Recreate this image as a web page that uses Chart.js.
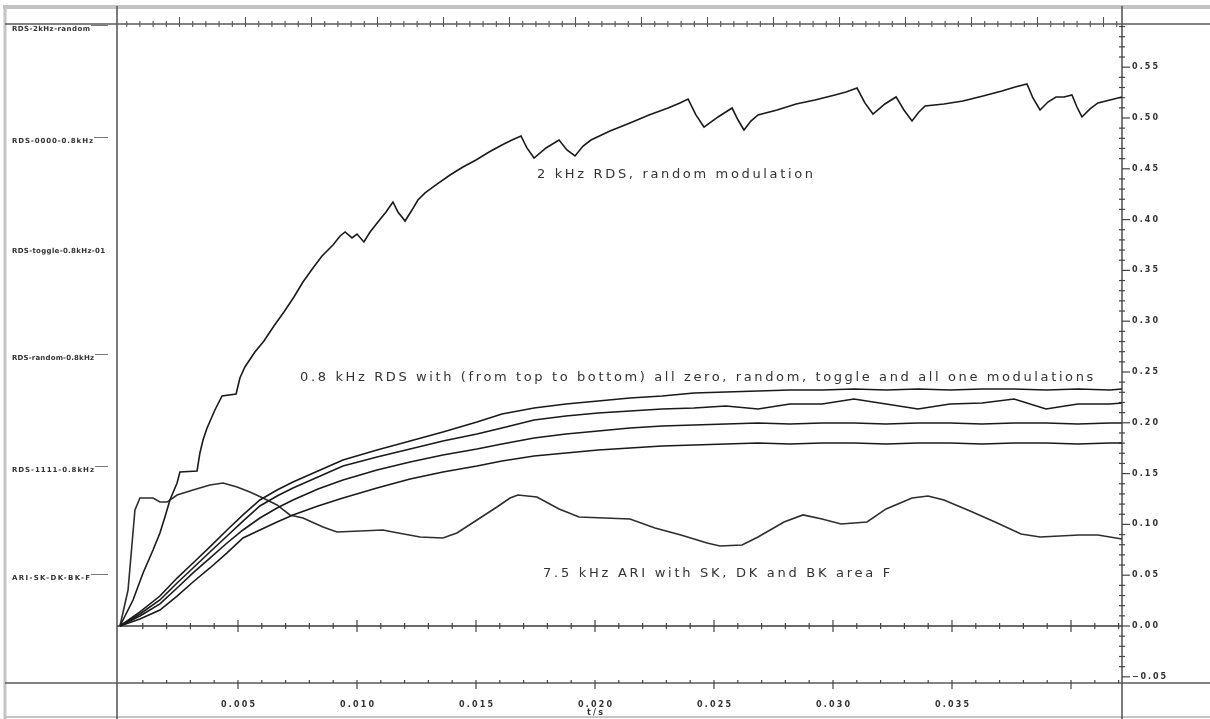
<!DOCTYPE html>
<html><head><meta charset="utf-8">
<script src="https://cdn.jsdelivr.net/npm/chart.js@4/dist/chart.umd.min.js"></script>
<style>html,body{margin:0;padding:0;background:#fff;overflow:hidden}canvas{display:block}</style>
</head><body>
<canvas id="c" width="1210" height="719"></canvas>
<script>
// ---- data (time in ms, amplitude) ----
const rds2kTime = [0.04,0.59,1.01,1.43,1.72,1.93,2.14,2.44,2.56,3.28,
 3.40,3.53,3.70,4.03,4.33,4.92,5.08,5.29,5.71,6.09,
 6.51,6.93,7.35,7.73,8.15,8.53,8.99,9.29,9.50,9.79,
 10.00,10.29,10.55,10.88,11.22,11.51,11.72,12.02,12.31,12.56,
 12.86,13.36,13.91,14.45,15.00,15.55,16.09,16.51,16.89,17.14,
 17.44,17.94,18.49,18.82,19.16,19.50,19.83,20.63,21.47,22.27,
 23.07,23.57,23.91,24.24,24.58,25.17,25.76,26.01,26.26,26.55,
 26.85,27.65,28.45,29.24,30.08,30.55,31.01,31.34,31.68,32.18,
 32.65,32.98,33.32,33.61,33.87,34.66,35.46,36.30,37.10,37.65,
 38.15,38.40,38.70,39.03,39.37,39.71,40.04,40.25,40.46,40.80,
 41.13,41.64,42.14];
const rds2kValue = [0,0.0256,0.0522,0.0748,0.0915,0.1073,0.1240,0.1407,0.1516,0.1526,
 0.1703,0.1831,0.1949,0.2126,0.2264,0.2283,0.2441,0.2549,0.2697,0.2805,
 0.2953,0.3091,0.3238,0.3386,0.3524,0.3642,0.3750,0.3839,0.3878,0.3819,
 0.3858,0.3780,0.3878,0.3976,0.4075,0.4173,0.4075,0.3986,0.4094,0.4193,
 0.4262,0.4350,0.4439,0.4518,0.4587,0.4665,0.4734,0.4783,0.4823,0.4705,
 0.4606,0.4705,0.4783,0.4685,0.4626,0.4724,0.4783,0.4872,0.4951,0.5030,
 0.5098,0.5148,0.5187,0.5030,0.4911,0.5010,0.5098,0.4980,0.4882,0.4970,
 0.5030,0.5079,0.5138,0.5177,0.5226,0.5256,0.5295,0.5148,0.5039,0.5138,
 0.5207,0.5079,0.4970,0.5059,0.5118,0.5138,0.5167,0.5217,0.5266,0.5305,
 0.5335,0.5197,0.5079,0.5157,0.5207,0.5207,0.5226,0.5108,0.5010,0.5089,
 0.5148,0.5177,0.5207];

const ariTime = [0.04,0.38,0.67,0.88,1.43,1.72,2.02,2.44,3.11,3.82,
 4.37,4.96,5.50,6.05,6.64,7.18,7.73,8.57,9.16,11.09,
 11.51,12.65,13.61,14.20,15.04,15.88,16.43,16.76,17.56,18.49,
 19.33,21.47,22.52,23.61,24.71,25.25,26.18,26.85,27.94,28.74,
 29.54,30.34,31.43,32.23,33.32,33.99,34.66,35.76,36.81,37.90,
 38.70,40.34,41.13,42.14];
const ariValue = [0,0.0354,0.1142,0.1260,0.1260,0.1220,0.1220,0.1289,0.1339,0.1388,
 0.1407,0.1368,0.1319,0.1260,0.1191,0.1093,0.1063,0.0974,0.0925,0.0945,
 0.0925,0.0876,0.0866,0.0915,0.1043,0.1171,0.1260,0.1289,0.1270,0.1152,
 0.1073,0.1053,0.0965,0.0896,0.0817,0.0787,0.0797,0.0876,0.1024,0.1093,
 0.1053,0.1004,0.1024,0.1152,0.1260,0.1280,0.1240,0.1132,0.1024,0.0906,
 0.0876,0.0896,0.0896,0.0856];

const rds08Time = [0.04,0.88,1.72,2.44,3.11,3.82,4.54,5.21,5.92,6.64,
 7.31,8.36,9.41,10.84,12.23,13.61,15.04,16.09,17.44,18.78,
 20.13,21.47,22.82,24.16,25.50,26.85,28.19,29.54,30.88,32.23,
 33.57,34.92,36.26,37.61,38.95,40.29,41.64,42.14];
const rds08AllZero = [0,0.0138,0.0295,0.0472,0.0620,0.0778,0.0945,0.1093,0.1240,0.1339,
 0.1417,0.1526,0.1634,0.1732,0.1821,0.1909,0.2008,0.2087,0.2146,0.2185,
 0.2215,0.2244,0.2264,0.2293,0.2303,0.2313,0.2323,0.2323,0.2333,0.2323,
 0.2333,0.2323,0.2333,0.2333,0.2323,0.2333,0.2323,0.2333];
const rds08Random = [0,0.0118,0.0256,0.0423,0.0571,0.0728,0.0886,0.1033,0.1181,0.1280,
 0.1358,0.1467,0.1575,0.1663,0.1742,0.1821,0.1890,0.1949,0.2028,0.2067,
 0.2096,0.2116,0.2136,0.2146,0.2165,0.2136,0.2185,0.2185,0.2234,0.2185,
 0.2136,0.2185,0.2195,0.2234,0.2136,0.2185,0.2185,0.2195];
const rds08Toggle = [0,0.0098,0.0217,0.0374,0.0522,0.0669,0.0817,0.0945,0.1063,0.1161,
 0.1240,0.1348,0.1437,0.1535,0.1614,0.1683,0.1742,0.1791,0.1850,0.1890,
 0.1919,0.1949,0.1969,0.1978,0.1988,0.1998,0.1988,0.1998,0.1998,0.1988,
 0.1998,0.1998,0.1988,0.1998,0.1998,0.1988,0.1998,0.1998];
const rds08AllOne = [0,0.0069,0.0157,0.0295,0.0433,0.0571,0.0719,0.0866,0.0945,0.1024,
 0.1093,0.1181,0.1260,0.1358,0.1447,0.1516,0.1575,0.1624,0.1673,0.1703,
 0.1732,0.1752,0.1772,0.1781,0.1791,0.1801,0.1791,0.1801,0.1801,0.1791,
 0.1801,0.1801,0.1791,0.1801,0.1801,0.1791,0.1801,0.1801];

const xTickValues = [5,10,15,20,25,30,35];
const xTickLabels = ['0.005','0.010','0.015','0.020','0.025','0.030','0.035'];
const xAxisTitle = 't/s';
const yTickValues = [-0.05,0,0.05,0.10,0.15,0.20,0.25,0.30,0.35,0.40,0.45,0.50,0.55];
const yTickLabels = ['\u22120.05','0.00','0.05','0.10','0.15','0.20','0.25','0.30','0.35','0.40','0.45','0.50','0.55'];
const annotationTexts = ['2 kHz RDS, random modulation',
 '0.8 kHz RDS with (from top to bottom) all zero, random, toggle and all one modulations',
 '7.5 kHz ARI with SK, DK and BK area F'];
const leftLabels = ['RDS-2kHz-random','RDS-0000-0.8kHz','RDS-toggle-0.8kHz-01','RDS-random-0.8kHz','RDS-1111-0.8kHz','ARI-SK-DK-BK-F'];

// ---- drawing helpers ----
function fitText(ctx, text, x, y, w, font, align){
  ctx.font = font;
  const hasLS = ('letterSpacing' in ctx);
  if (hasLS) ctx.letterSpacing = '0px';
  const w0 = ctx.measureText(text).width;
  const left = align === 'center' ? x - w/2 : x;
  ctx.textAlign = 'left';
  if (hasLS && text.length > 1){
    const sp = (w - w0)/(text.length - 1);
    ctx.letterSpacing = sp.toFixed(2) + 'px';
    ctx.fillText(text, left, y);
    ctx.letterSpacing = '0px';
  } else {
    ctx.save(); ctx.translate(left, y); ctx.scale(w / w0, 1); ctx.fillText(text, 0, 0); ctx.restore();
  }
}
function seg(ctx, x1, y1, x2, y2){ ctx.beginPath(); ctx.moveTo(x1, y1); ctx.lineTo(x2, y2); ctx.stroke(); }

const framePlugin = {
  id: 'frame',
  beforeDatasetsDraw(chart){
    const {ctx, chartArea: a, scales: {x, y}} = chart;
    const W = chart.width, H = chart.height;
    ctx.save();
    // outer frame
    ctx.strokeStyle = '#c4c4c4'; ctx.lineWidth = 4;
    seg(ctx, 3, 7, W, 7);
    ctx.lineWidth = 3;
    seg(ctx, 5, 6, 5, H);
    ctx.lineWidth = 2;
    seg(ctx, 4, 717, W, 717);
    // main rules
    ctx.strokeStyle = '#5a5a5a'; ctx.lineWidth = 1.6;
    seg(ctx, 5, a.top, W, a.top);
    seg(ctx, 5, a.bottom, W, a.bottom);
    seg(ctx, a.left, 6, a.left, H);
    seg(ctx, a.right, 6, a.right, H);
    // zero line
    const y0 = y.getPixelForValue(0);
    ctx.strokeStyle = '#3a3a3a'; ctx.lineWidth = 1.5;
    seg(ctx, a.left, y0, a.right, y0);
    // ticks on zero line and bottom axis (1 ms minor, 5 ms major)
    ctx.lineWidth = 1.2; ctx.strokeStyle = '#444';
    for (let ms = 1; ms <= 42; ms++){
      const px = x.getPixelForValue(ms);
      const major = ms % 5 === 0;
      seg(ctx, px, y0 - (major ? 6 : 3), px, y0 + (major ? 6 : 3));
      seg(ctx, px, a.bottom - 3, px, a.bottom + (major ? 6 : 0));
    }
    // top axis ticks
    ctx.strokeStyle = '#555'; ctx.lineWidth = 1.1;
    for (let k = 0; ; k++){
      const px = a.left + 9.7 + 13.2*k;
      if (px > a.right - 2) break;
      const major = (k - 4) % 5 === 0;
      seg(ctx, px, a.top - (major ? 7 : 3), px, a.top + 3);
    }
    // right axis ticks
    ctx.strokeStyle = '#444'; ctx.lineWidth = 1.2;
    for (let i = -5; i <= 59; i++){
      const py = y.getPixelForValue(i/100);
      if (i % 5 === 0) seg(ctx, a.right, py, a.right + 8, py);
      else seg(ctx, a.right - 3, py, a.right + 3, py);
    }
    // right axis labels
    ctx.fillStyle = '#333'; ctx.textBaseline = 'middle';
    yTickValues.forEach((v, i) => {
      const py = y.getPixelForValue(v);
      const t = yTickLabels[i];
      fitText(ctx, t, a.right + 10, py, t.length === 5 ? 34 : 26, 'bold 8px "DejaVu Sans"', 'left');
    });
    // bottom axis labels
    xTickValues.forEach((v, i) => {
      const px = x.getPixelForValue(v);
      fitText(ctx, xTickLabels[i], px, a.bottom + 22, 34, 'bold 8px "DejaVu Sans"', 'center');
    });
    fitText(ctx, xAxisTitle, x.getPixelForValue(20), a.bottom + 30, 16, 'bold 8px "DejaVu Sans"', 'center');
    // left column labels
    const ly = [29, 141, 251, 358, 470, 578];
    const lw = [78, 81, 93, 82, 82, 78];
    leftLabels.forEach((t, i) => {
      ctx.fillStyle = '#333';
      fitText(ctx, t, 12, ly[i], lw[i], 'bold 7px "DejaVu Sans"', 'left');
      const xe = 12 + lw[i] + 1;
      if (a.left - 9 - xe > 3){
        ctx.strokeStyle = '#777'; ctx.lineWidth = 1;
        seg(ctx, xe, ly[i] - 3.5, a.left - 9, ly[i] - 3.5);
      }
    });
    // annotations (anchored in data coordinates)
    const notes = [
      {x: 17.56, y: 0.4439, w: 11.60},
      {x: 7.61,  y: 0.2441, w: 33.32},
      {x: 17.82, y: 0.0512, w: 14.58}
    ];
    ctx.fillStyle = '#333';
    notes.forEach((n, i) => {
      const px = x.getPixelForValue(n.x), py = y.getPixelForValue(n.y);
      const pw = x.getPixelForValue(n.x + n.w) - px;
      fitText(ctx, annotationTexts[i], px, py, pw, '13px "DejaVu Sans"', 'left');
    });
    ctx.restore();
  }
};

function pts(t, v){ return t.map((tt, i) => ({x: tt, y: v[i]})); }
const lineStyle = {borderColor: '#1a1a1a', borderWidth: 1.6, pointRadius: 0, tension: 0, fill: false};

new Chart(document.getElementById('c').getContext('2d'), {
  type: 'line',
  data: {datasets: [
    Object.assign({label: '2 kHz RDS random', data: pts(rds2kTime, rds2kValue)}, lineStyle),
    Object.assign({label: '0.8 kHz RDS all zero', data: pts(rds08Time, rds08AllZero)}, lineStyle),
    Object.assign({label: '0.8 kHz RDS random', data: pts(rds08Time, rds08Random)}, lineStyle),
    Object.assign({label: '0.8 kHz RDS toggle', data: pts(rds08Time, rds08Toggle)}, lineStyle),
    Object.assign({label: '0.8 kHz RDS all one', data: pts(rds08Time, rds08AllOne)}, lineStyle),
    Object.assign({label: '7.5 kHz ARI', data: pts(ariTime, ariValue)}, lineStyle, {borderColor: '#2e2e2e'})
  ]},
  options: {
    responsive: false, animation: false, devicePixelRatio: 1,
    layout: {padding: {left: 117, right: 88, top: 24, bottom: 36}},
    plugins: {legend: {display: false}, tooltip: {enabled: false}},
    scales: {
      x: {type: 'linear', display: false, min: -0.084, max: 42.143},
      y: {type: 'linear', display: false, min: -0.0561, max: 0.5925}
    }
  },
  plugins: [framePlugin]
});
</script>
</body></html>
